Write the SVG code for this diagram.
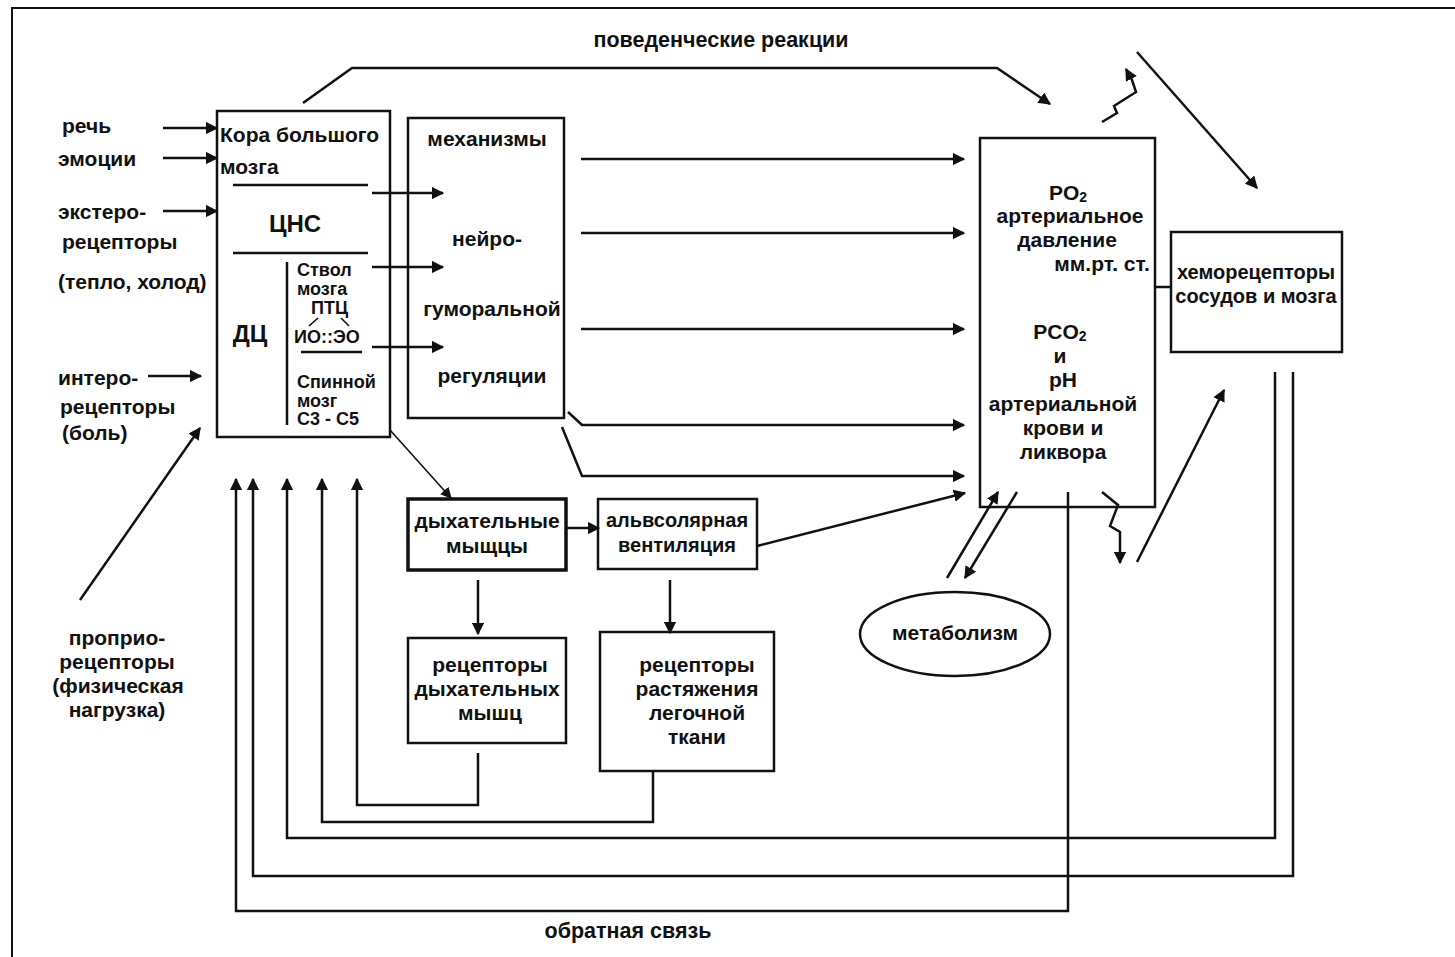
<svg xmlns="http://www.w3.org/2000/svg" width="1455" height="957" viewBox="0 0 1455 957">
<style>
text{font-family:"Liberation Sans",Arial,sans-serif;font-weight:bold;font-size:21px;fill:#111}
.m{text-anchor:middle}
.s{font-size:18px}
.big{font-size:24px}
.box{fill:#fff;stroke:#111;stroke-width:2.5}
.ln{fill:none;stroke:#111;stroke-width:2.5}
.th{fill:none;stroke:#111;stroke-width:1.6}
.a{marker-end:url(#ah)}
</style>
<defs>
<marker id="ah" viewBox="0 0 10 10" refX="9" refY="5" markerWidth="5" markerHeight="5" orient="auto" markerUnits="strokeWidth"><path d="M0,0 L10,5 L0,10 z" fill="#111"/></marker>
<marker id="ahs" viewBox="0 0 10 10" refX="9" refY="5" markerWidth="7" markerHeight="7" orient="auto" markerUnits="strokeWidth"><path d="M0,0 L10,5 L0,10 z" fill="#111"/></marker>
</defs>
<rect x="0" y="0" width="1455" height="957" fill="#fff"/>
<rect x="12" y="8" width="1450" height="960" fill="none" stroke="#111" stroke-width="2"/>

<g id="labels">
<text x="62" y="133">речь</text>
<text x="58" y="166">эмоции</text>
<text x="58" y="219">экстеро-</text>
<text x="62" y="249">рецепторы</text>
<text x="58" y="289">(тепло, холод)</text>
<text x="58" y="385">интеро-</text>
<text x="60" y="414">рецепторы</text>
<text x="62" y="440">(боль)</text>
<text class="m" x="117" y="645">проприо-</text>
<text class="m" x="117" y="669">рецепторы</text>
<text class="m" x="118" y="693">(физическая</text>
<text class="m" x="117" y="717">нагрузка)</text>
<text class="m" x="721" y="47" style="font-size:21.5px">поведенческие реакции</text>
<text class="m" x="628" y="938" style="font-size:21.5px">обратная связь</text>
</g>

<g id="cns">
<rect class="box" x="217" y="111" width="173" height="326"/>
<text x="220" y="142">Кора большого</text>
<text x="220" y="174">мозга</text>
<line class="ln" x1="233" y1="185" x2="368" y2="185"/>
<text class="m big" x="295" y="232">ЦНС</text>
<line class="ln" x1="233" y1="253" x2="368" y2="253"/>
<text class="m big" x="250" y="342">ДЦ</text>
<line class="ln" x1="287" y1="262" x2="287" y2="425"/>
<text class="s" x="297" y="276">Ствол</text>
<text class="s" x="297" y="295">мозга</text>
<text class="s" x="311" y="314">ПТЦ</text>
<line class="th" x1="318" y1="318" x2="309" y2="326"/>
<line class="th" x1="341" y1="318" x2="349" y2="326"/>
<text class="s" x="294" y="343">ИО::ЭО</text>
<line class="ln" x1="301" y1="352" x2="362" y2="352"/>
<text class="s" x="297" y="388">Спинной</text>
<text class="s" x="297" y="407">мозг</text>
<text class="s" x="297" y="425">С3 - С5</text>
</g>

<g id="mech">
<rect class="box" x="408" y="118" width="156" height="300"/>
<text class="m" x="487" y="146">механизмы</text>
<text class="m" x="487" y="246">нейро-</text>
<text class="m" x="492" y="316">гуморальной</text>
<text class="m" x="492" y="383">регуляции</text>
</g>

<g id="blood">
<rect class="box" x="980" y="138" width="175" height="369"/>
<text class="m" x="1068" y="200">PO<tspan font-size="14" dy="2">2</tspan></text>
<text class="m" x="1070" y="223">артериальное</text>
<text class="m" x="1067" y="247">давление</text>
<text class="m" x="1102" y="271">мм.рт. ст.</text>
<text class="m" x="1060" y="339">PCO<tspan font-size="14" dy="2">2</tspan></text>
<text class="m" x="1060" y="363">и</text>
<text class="m" x="1063" y="387">pH</text>
<text class="m" x="1063" y="411">артериальной</text>
<text class="m" x="1063" y="435">крови и</text>
<text class="m" x="1063" y="459">ликвора</text>
</g>

<g id="chemo">
<rect class="box" x="1171" y="232" width="171" height="120"/>
<text class="m" x="1256" y="279" style="font-size:20px">хеморецепторы</text>
<text class="m" x="1256" y="303" style="font-size:20px">сосудов и мозга</text>
</g>

<g id="muscles">
<rect class="box" x="408" y="499" width="158" height="71" style="stroke-width:3.5"/>
<text class="m" x="487" y="528">дыхательные</text>
<text class="m" x="487" y="553">мыщцы</text>
</g>

<g id="vent">
<rect class="box" x="598" y="499" width="159" height="70"/>
<text class="m" x="677" y="527" style="font-size:20px">альвсолярная</text>
<text class="m" x="677" y="552" style="font-size:20px">вентиляция</text>
</g>

<g id="rec-muscles">
<rect class="box" x="408" y="638" width="158" height="105"/>
<text class="m" x="490" y="672">рецепторы</text>
<text class="m" x="487" y="696">дыхательных</text>
<text class="m" x="490" y="720">мышц</text>
</g>

<g id="rec-lung">
<rect class="box" x="600" y="632" width="174" height="139"/>
<text class="m" x="697" y="672">рецепторы</text>
<text class="m" x="697" y="696">растяжения</text>
<text class="m" x="697" y="720">легочной</text>
<text class="m" x="697" y="744">ткани</text>
</g>

<g id="metab">
<ellipse cx="955" cy="634" rx="95" ry="42" fill="#fff" stroke="#111" stroke-width="2.5"/>
<text class="m" x="955" y="640">метаболизм</text>
</g>

<g id="connectors">
<line class="ln a" x1="163" y1="128" x2="217" y2="128"/>
<line class="ln a" x1="163" y1="158" x2="217" y2="158"/>
<line class="ln a" x1="163" y1="211" x2="217" y2="211"/>
<line class="ln a" x1="148" y1="376" x2="201" y2="376"/>
<line class="ln a" x1="80" y1="600" x2="200" y2="428"/>
<polyline class="ln a" points="303,103 352,68 997,68 1050,104"/>
<polyline class="ln a" points="1102,122 1117,113 1114,106 1136,92 1132,80 1126,69"/>
<line class="ln a" x1="1137" y1="52" x2="1257" y2="188"/>
<line class="ln a" x1="372" y1="193" x2="443" y2="193"/>
<line class="ln a" x1="372" y1="267" x2="443" y2="267"/>
<line class="ln a" x1="372" y1="347" x2="443" y2="347"/>
<line class="ln a" x1="581" y1="159" x2="964" y2="159"/>
<line class="ln a" x1="581" y1="233" x2="964" y2="233"/>
<line class="ln a" x1="581" y1="329" x2="964" y2="329"/>
<polyline class="ln a" points="568,412 582,425 964,425"/>
<polyline class="ln a" points="562,427 582,476 964,476"/>
<line class="ln a" x1="757" y1="546" x2="965" y2="493"/>
<line class="ln" x1="1155" y1="287" x2="1171" y2="287"/>
<line class="th" x1="390" y1="430" x2="451" y2="498" style="marker-end:url(#ahs)"/>
<line class="ln a" x1="566" y1="528" x2="599" y2="528"/>
<line class="ln a" x1="478" y1="580" x2="478" y2="634"/>
<line class="ln a" x1="670" y1="580" x2="670" y2="633"/>
<polyline class="ln a" points="478,753 478,805 357,805 357,479"/>
<polyline class="ln a" points="653,771 653,822 322,822 322,479"/>
<polyline class="ln a" points="1275,372 1275,838 287,838 287,479"/>
<polyline class="ln a" points="1293,372 1293,876 253,876 253,479"/>
<polyline class="ln a" points="1068,492 1068,911 236,911 236,479"/>
<line class="ln a" x1="947" y1="578" x2="998" y2="492"/>
<line class="ln a" x1="1017" y1="492" x2="965" y2="578"/>
<polyline class="ln a" points="1102,492 1118,505 1110,526 1120,532 1120,563"/>
<line class="ln a" x1="1137" y1="562" x2="1224" y2="390"/>
</g>
</svg>
